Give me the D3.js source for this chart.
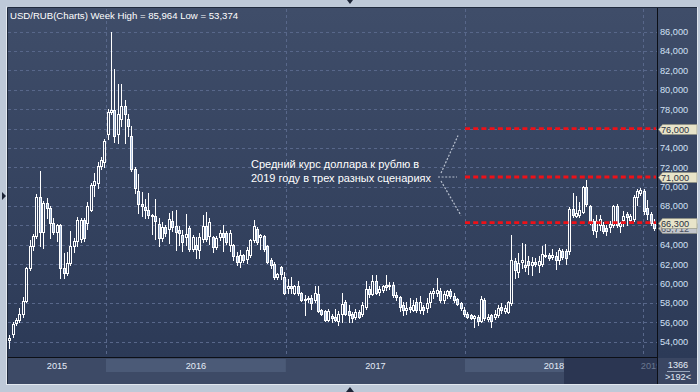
<!DOCTYPE html>
<html>
<head>
<meta charset="utf-8">
<script src="https://cdn.jsdelivr.net/npm/d3@7"></script>
<style>
  body { margin: 0; background: #bec9d8; }
  svg { display: block; font-family: "Liberation Sans", Arial, sans-serif; }
</style>
</head>
<body>
<svg id="chart" width="700" height="392"></svg>
<script>
// weekly USD/RUB candles (rubles)
const open = [54.2,54.8,55.9,56.2,56.9,58.2,61.6,63.9,64.9,68.9,65.3,68.3,67.8,66.3,65.3,66.0,61.6,61.1,62.1,63.9,
  64.4,64.6,66.6,66.3,67.6,70.2,70.4,72.1,72.5,75.4,77.7,77.9,75.4,77.0,78.3,77.0,75.2,71.8,69.6,68.2,
  67.9,67.6,67.1,67.0,66.1,64.7,65.8,65.6,66.5,65.9,65.5,65.0,64.8,65.7,63.6,64.0,63.5,64.6,65.9,64.9,
  64.8,63.8,64.8,65.2,65.2,64.0,64.0,62.8,62.2,62.9,62.5,62.9,64.5,65.6,64.8,64.9,63.9,62.4,62.0,60.7,
  61.7,60.7,59.5,59.7,59.0,59.8,59.0,58.4,58.5,58.5,58.3,58.9,57.3,57.2,56.2,56.7,56.6,56.1,56.9,58.1,
  57.2,56.9,56.5,57.1,56.9,57.6,59.4,58.9,60.3,59.1,59.3,59.9,59.7,59.9,58.8,58.6,57.8,57.3,57.6,57.3,
  58.1,57.3,57.6,57.45,58.1,59.0,59.0,59.2,58.3,58.8,59.2,58.7,58.4,58.0,57.3,56.9,56.8,56.4,56.5,56.1,
  58.3,56.3,56.8,56.6,56.8,57.55,57.2,57.1,58.0,62.3,61.2,62.2,61.9,62.3,61.9,62.2,61.9,62.05,63.0,62.9,
  62.7,62.8,62.4,63.4,63.4,63.4,67.7,67.0,67.1,67.4,70.0,68.0,66.5,65.4,66.0,66.0,65.7,65.8,66.0,68.0,
  65.9,66.6,67.2,66.6,66.7,68.9,69.35,69.6,67.8,67.2,66.25];
const high = [54.7,56.0,56.4,57.5,58.6,61.7,64.5,65.1,69.2,71.6,68.5,68.8,68.0,66.8,66.1,66.1,63.2,63.3,65.4,64.7,
  66.9,66.8,66.8,68.4,70.4,71.4,72.5,73.1,74.9,78.0,85.964,82.1,80.6,80.6,78.9,77.5,76.3,72.0,71.3,69.5,
  68.7,69.4,67.2,68.7,66.8,66.4,66.0,67.3,67.5,67.6,65.9,65.5,67.2,65.9,65.0,64.8,65.2,67.1,67.4,66.8,
  64.9,64.9,65.5,66.0,65.4,65.5,64.1,63.3,63.5,63.1,63.8,64.6,66.6,65.8,65.1,65.0,64.0,62.6,62.2,61.1,
  61.8,61.2,60.5,60.7,59.9,60.3,59.1,58.8,58.7,58.8,59.7,59.7,57.4,57.3,57.4,56.9,57.4,57.2,59.0,58.3,
  57.8,57.1,57.4,57.3,58.1,60.3,59.7,60.9,60.9,59.7,59.9,60.9,60.2,60.2,59.1,58.7,58.1,58.1,58.5,58.3,
  58.5,58.7,57.8,58.5,59.2,59.5,60.55,59.5,59.2,59.3,59.4,59.0,58.5,58.1,57.55,57.1,56.9,56.8,56.8,58.7,
  58.5,56.9,56.9,57.3,57.8,58.0,57.8,58.2,65.0,62.6,63.2,64.2,64.1,62.8,62.7,62.6,62.8,63.9,64.1,63.15,
  63.6,63.25,63.7,63.6,63.6,67.9,69.35,69.0,68.4,70.1,70.7,68.1,66.7,67.05,67.05,66.35,66.0,66.5,68.1,68.25,
  66.35,67.5,67.4,67.2,69.1,69.8,69.9,69.8,68.6,67.4,66.7];
const low = [53.374,54.5,55.7,56.0,56.6,58.1,61.4,63.5,64.7,63.9,63.7,66.8,64.7,65.1,64.4,60.6,60.6,60.9,61.9,63.3,
  63.9,64.3,64.4,65.6,67.5,69.0,69.9,71.8,72.0,74.9,77.5,74.6,74.5,76.3,74.5,75.2,71.6,69.3,67.3,67.0,
  66.8,66.8,65.1,64.6,63.9,64.4,64.9,64.2,65.4,63.5,64.0,63.4,64.0,63.4,63.4,62.6,62.6,64.3,64.4,64.1,
  63.3,63.6,64.5,63.4,64.1,63.4,62.4,61.9,61.7,62.2,62.1,62.7,64.3,64.1,63.6,63.4,62.1,61.6,60.5,60.5,
  60.5,58.9,59.0,59.0,58.9,58.8,58.2,56.8,58.1,57.4,58.1,57.1,56.8,56.1,56.1,56.0,56.1,55.7,56.0,56.8,
  56.0,56.0,56.3,56.4,56.7,57.4,58.6,58.8,58.9,58.8,59.1,59.3,59.4,58.6,58.3,57.2,56.8,56.9,57.1,57.2,
  57.1,57.0,56.9,57.1,57.6,58.5,58.7,58.1,58.0,58.5,58.5,58.1,57.8,57.3,56.65,56.4,56.3,55.55,55.7,56.0,
  56.2,56.1,55.5,56.3,56.6,57.0,57.0,57.0,57.8,60.55,60.7,61.6,61.3,60.95,60.85,61.8,61.2,61.8,62.7,62.4,
  62.5,61.5,62.05,62.5,62.05,63.1,66.9,66.9,66.9,67.3,68.0,66.2,65.15,64.8,65.5,65.2,65.0,65.3,65.8,65.8,
  65.3,65.9,66.0,66.4,66.5,68.1,69.1,67.2,66.7,66.0,65.55];
const close = [54.4,55.8,56.2,56.9,58.2,61.6,63.9,64.9,68.9,65.3,68.3,67.8,66.3,65.3,66.0,61.6,61.1,62.1,63.9,64.4,
  66.6,66.6,64.7,68.0,70.2,70.6,72.1,72.8,74.7,77.7,77.9,75.2,77.5,78.3,77.5,76.3,71.8,69.9,68.2,68.0,
  67.6,67.1,67.0,66.5,64.7,65.8,65.2,66.7,65.8,65.3,65.2,64.3,65.1,63.6,64.8,63.6,64.8,65.9,64.6,66.4,
  63.8,64.7,65.2,64.8,64.3,65.2,62.8,62.2,62.9,62.4,63.5,64.5,65.9,64.3,65.0,63.6,62.2,61.9,60.7,61.0,
  61.0,59.0,59.7,59.5,59.8,59.0,58.3,58.3,58.4,58.0,59.0,57.2,56.9,56.2,57.2,56.4,56.2,56.9,57.9,56.9,
  56.8,56.4,57.1,56.6,57.8,59.4,58.9,60.3,59.0,59.4,59.7,59.6,59.9,58.8,58.6,57.6,57.3,57.5,57.4,57.8,
  57.3,58.1,57.3,58.0,59.0,59.2,59.3,58.3,58.9,59.2,58.7,58.3,57.9,57.45,56.9,56.6,56.4,56.65,56.1,58.4,
  56.4,56.6,56.1,56.9,57.45,57.3,57.45,58.1,62.4,61.4,62.1,62.4,61.7,61.9,62.2,62.0,62.3,63.1,62.8,62.6,
  63.0,62.4,63.5,62.7,62.6,67.7,67.1,67.3,67.6,70.0,68.2,66.35,65.5,66.45,66.7,65.4,65.4,66.2,68.0,66.0,
  66.25,67.0,66.9,67.0,68.9,69.6,69.7,67.5,67.2,66.25,65.712];

const yearLabels = ['2015', '2016', '2017', '2018', '2019'];
const yearBreaks = [28.5, 81.5, 134.3, 186.7];   // candle index where a new year begins
const yTicks = [54, 56, 58, 60, 62, 64, 66, 68, 70, 72, 74, 76, 78, 80, 82, 84, 86];
const scenarios = [76, 71, 66.3];
const lastPrice = 65.712;
const barsTotal = '1366';
const barsShown = '>192<';
const titleText = 'USD/RUB(Charts) Week High = 85,964 Low = 53,374';
const noteLines = ['Средний курс доллара к рублю в', '2019 году в трех разных сценариях'];

const svg = d3.select('#chart');
const n = close.length;
const L = 8, R = 657, T = 9, B = 357, W = 697, H = 384;

const ru = d3.formatLocale({ decimal: ',', thousands: ' ', grouping: [3], currency: ['', ''] });
const fmt = ru.format('.3f');

var x = d3.scaleLinear().domain([0, n - 1]).range([9.3, 654]);
var y = d3.scaleLinear().domain([54, 86]).range([341.7, 31.7]);
const px = v => Math.round(v) + 0.5;

var defs = svg.append('defs');
var grad = defs.append('linearGradient').attr('id', 'bg')
  .attr('gradientUnits', 'userSpaceOnUse')
  .attr('x1', 0).attr('y1', T).attr('x2', 0).attr('y2', B);
grad.append('stop').attr('offset', 0).attr('stop-color', '#3f4d69');
grad.append('stop').attr('offset', 1).attr('stop-color', '#2c3a57');
defs.append('clipPath').attr('id', 'plotClip')
  .append('rect').attr('x', L).attr('y', T).attr('width', R - L).attr('height', B - T);
defs.append('clipPath').attr('id', 'bandClip')
  .append('rect').attr('x', L).attr('y', B).attr('width', R - L).attr('height', H - B);

// panel
svg.append('rect').attr('x', L).attr('y', 8).attr('width', W - L).attr('height', H - 8)
  .attr('fill', 'url(#bg)');
svg.append('path').attr('d', `M${L - 0.5},${H}V7.5H${W}`).attr('fill', 'none').attr('stroke', '#1f2a3d');
svg.append('path').attr('d', `M${L - 1.5},${H + 1}V6.5`).attr('fill', 'none').attr('stroke', '#e4e9f0');
svg.append('path').attr('d', `M${L - 1},${H + 0.5}H${W + 0.5}V7`).attr('fill', 'none').attr('stroke', '#e2e8f0');

// time band at the bottom
var band = svg.append('g').attr('clip-path', 'url(#bandClip)');
band.append('rect').attr('x', L).attr('y', B).attr('width', R - L).attr('height', H - B).attr('fill', '#3d4a66');
const edges = [L].concat(yearBreaks.map(d => x(d))).concat([R + 20]);
yearLabels.forEach((lab, k) => {
  if (k % 2 === 1) {
    band.append('rect').attr('x', edges[k]).attr('y', 359).attr('width', edges[k + 1] - edges[k])
      .attr('height', 13).attr('fill', '#4b5a77');
  }
});
band.append('rect').attr('x', 564).attr('y', B).attr('width', R - 564).attr('height', H - B).attr('fill', '#2b3652');
band.selectAll('text.year').data(yearLabels).enter().append('text')
  .attr('class', 'year')
  .attr('x', (d, k) => k < 4 ? (edges[k] + edges[k + 1]) / 2 : edges[k] - 2)
  .attr('y', 368.5)
  .attr('text-anchor', (d, k) => k < 4 ? 'middle' : 'start')
  .attr('font-size', '9.2px')
  .attr('fill', (d, k) => k < 4 ? '#e4ebf6' : '#6c7890')
  .text(d => d);

// right bottom box
svg.append('rect').attr('x', R + 1).attr('y', B + 1).attr('width', W - R - 1).attr('height', H - B - 1).attr('fill', '#3a4662');
svg.append('text').attr('x', (R + W) / 2 + 1).attr('y', 368).attr('text-anchor', 'middle')
  .attr('font-size', '9.2px').attr('fill', '#e4ebf6').text(barsTotal);
svg.append('line').attr('x1', 667).attr('x2', 690).attr('y1', 371.5).attr('y2', 371.5).attr('stroke', '#9aa6bb');
svg.append('text').attr('x', (R + W) / 2 + 1).attr('y', 380).attr('text-anchor', 'middle')
  .attr('font-size', '9.2px').attr('fill', '#e4ebf6').text(barsShown);

// grid
var grid = svg.append('g').attr('stroke', '#58678a').attr('stroke-dasharray', '3,3').attr('shape-rendering', 'crispEdges');
grid.selectAll('line.h').data(yTicks).enter().append('line')
  .attr('x1', L).attr('x2', R).attr('y1', d => px(y(d))).attr('y2', d => px(y(d)));
grid.selectAll('line.v').data(yearBreaks).enter().append('line')
  .attr('x1', d => px(x(d))).attr('x2', d => px(x(d))).attr('y1', T).attr('y2', B);

// axis lines
svg.append('line').attr('x1', L).attr('x2', R).attr('y1', B + 0.5).attr('y2', B + 0.5).attr('stroke', '#0c0f16');
svg.append('line').attr('x1', R + 0.5).attr('x2', R + 0.5).attr('y1', 8).attr('y2', H).attr('stroke', '#0c0f16');

// y labels
svg.selectAll('text.tick').data(yTicks).enter().append('text')
  .attr('class', 'tick')
  .attr('x', R + 3).attr('y', d => y(d) + 3.3)
  .attr('font-size', '9.2px').attr('fill', '#d2e0f5')
  .text(d => fmt(d));

// candles
var plot = svg.append('g').attr('clip-path', 'url(#plotClip)').attr('shape-rendering', 'crispEdges');
var idx = d3.range(n);
var c = plot.selectAll('g.candle').data(idx).enter().append('g').attr('class', 'candle');
c.append('line')
  .attr('x1', i => px(x(i))).attr('x2', i => px(x(i)))
  .attr('y1', i => Math.round(y(high[i]))).attr('y2', i => Math.round(y(Math.max(open[i], close[i]))))
  .attr('stroke', '#ffffff');
c.append('line')
  .attr('x1', i => px(x(i))).attr('x2', i => px(x(i)))
  .attr('y1', i => Math.round(y(Math.min(open[i], close[i])))).attr('y2', i => Math.round(y(low[i])) + 1)
  .attr('stroke', '#ffffff');
c.append('rect')
  .attr('x', i => px(x(i)) - 1)
  .attr('y', i => px(y(Math.max(open[i], close[i]))))
  .attr('width', 2)
  .attr('height', i => Math.max(1, Math.round(y(Math.min(open[i], close[i]))) - Math.round(y(Math.max(open[i], close[i])))))
  .attr('fill', i => close[i] >= open[i] ? 'none' : '#a9bedc')
  .attr('stroke', '#ffffff');

// scenario lines
svg.selectAll('line.scn').data(scenarios).enter().append('line')
  .attr('class', 'scn')
  .attr('x1', x(yearBreaks[2])).attr('x2', R - 1)
  .attr('y1', d => y(d)).attr('y2', d => y(d))
  .attr('stroke', '#ee1118').attr('stroke-width', 2.8).attr('stroke-dasharray', '5,3.2');

// price tags
function tag(v, fill, ink) {
  const yc = Math.round(y(v)) + 0.5;
  svg.append('path')
    .attr('d', `M${R + 1.5},${yc}L${R + 5.5},${yc - 5}H${W}V${yc + 5}H${R + 5.5}Z`)
    .attr('fill', fill).attr('stroke', '#8e9080').attr('stroke-width', 0.6);
  svg.append('text').attr('x', R + 4).attr('y', yc + 3.5)
    .attr('font-size', '9.2px').attr('fill', ink).text(fmt(v));
}
tag(lastPrice, '#c3c6cc', '#4a5060');
scenarios.forEach(v => tag(v, '#e8e4c9', '#2a3142'));

// note and bracket
var note = svg.append('text').attr('font-size', '11px').attr('fill', '#ffffff');
noteLines.forEach((t, k) => note.append('tspan').attr('x', 251).attr('y', 168 + k * 13.5).text(t));
var br = svg.append('g').attr('stroke', '#b9c1cf').attr('stroke-width', 1.2).attr('stroke-dasharray', '2,1.6').attr('fill', 'none');
br.append('line').attr('x1', 441).attr('y1', y(71) - 4).attr('x2', 458).attr('y2', y(scenarios[0]) + 7);
br.append('line').attr('x1', 438).attr('y1', y(71)).attr('x2', 457).attr('y2', y(71));
br.append('line').attr('x1', 441).attr('y1', y(71) + 4).attr('x2', 461).attr('y2', y(scenarios[2]) - 7);

// title
svg.append('text').attr('x', 10).attr('y', 19).attr('font-size', '9.6px').attr('fill', '#ffffff').text(titleText);

// little window arrows
svg.append('path').attr('d', 'M2,192L6,196L2,200Z').attr('fill', '#1c2436');
svg.append('path').attr('d', 'M347,0L353,0L350,4Z').attr('fill', '#1c2436');
svg.append('path').attr('d', 'M346,392L354,392L350,387Z').attr('fill', '#1c2436');
</script>
</body>
</html>
